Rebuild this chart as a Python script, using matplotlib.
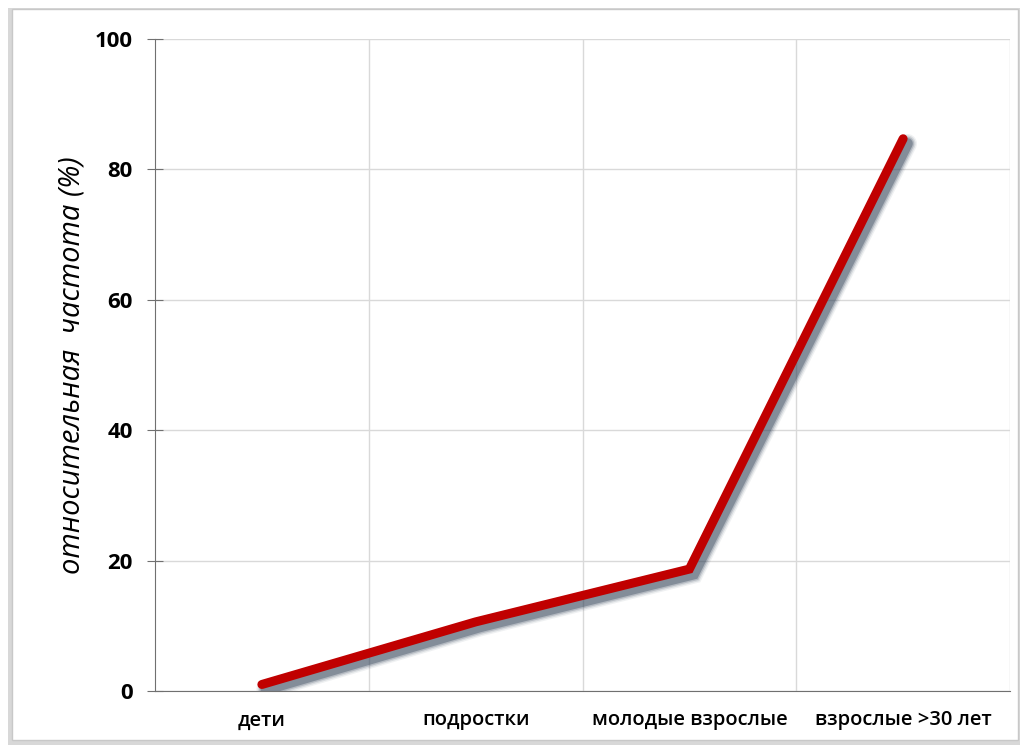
import matplotlib
matplotlib.use("Agg")
import matplotlib.pyplot as plt
import matplotlib.patheffects as pe
from matplotlib.patches import Rectangle

# age groups and relative frequency (%)
groups = ["дети", "подростки", "молодые взрослые", "взрослые >30 лет"]
freq = [1, 10.6, 18.7, 84.7]

plt.rcParams['font.family'] = ['Open Sans', 'DejaVu Sans']

fig = plt.figure(figsize=(10.27, 7.47), dpi=100)

# outer frame with a soft shadow on the left and bottom
fig.patches.append(Rectangle((8/1027, 1 - 745/747), 1012/1027, 737/747,
	transform=fig.transFigure, facecolor="#d8d8d8", edgecolor="none", zorder=-2))
fig.patches.append(Rectangle((12/1027, 1 - 740/747), 1006/1027, 731/747,
	transform=fig.transFigure, facecolor="white", edgecolor="#c8c8c8", lw=1, zorder=-1))

ax = fig.add_axes([155/1027, 1 - 691/747, 855/1027, 652/747])
ax.set_facecolor("none")
ax.set_zorder(1)

# soft shadow under the line: a few wide translucent strokes
shadow = []
for w, a in [(14, 0.07), (12, 0.12), (10, 0.2), (8, 0.35)]:
	shadow.append(pe.Stroke(offset=(3, -3.5), linewidth=w, foreground="#2a3a50", alpha=a))

x = list(range(len(groups)))
ax.plot(x, freq, color="#c00000", lw=6.5, solid_capstyle="round", solid_joinstyle="miter",
	path_effects=shadow + [pe.Normal()])

ax.set_xlim(-0.5, len(groups) - 0.5)
ax.set_ylim(0, 100)
ax.set_yticks([0, 20, 40, 60, 80, 100])
ax.set_xticks(x)
ax.set_xticklabels(groups, fontsize=14.5, fontweight="semibold")
ax.set_xticks([0.5, 1.5, 2.5, 3.5], minor=True)

ax.grid(axis="y", color="#d9d9d9", lw=1)
ax.grid(axis="x", which="minor", color="#d9d9d9", lw=1)
ax.set_axisbelow(True)

for s in ["top", "right"]:
	ax.spines[s].set_visible(False)
ax.spines["left"].set_color("#707070")
ax.spines["bottom"].set_color("#707070")

ax.tick_params(axis="y", direction="inout", length=12, color="#707070", labelsize=16, pad=10)
for t in ax.get_yticklabels():
	t.set_fontweight("bold")
ax.tick_params(axis="x", which="both", length=0, pad=14)

ax.set_ylabel("относительная  частота (%)", fontsize=21, style="italic", labelpad=6)

fig.savefig("out.png", dpi=100)
